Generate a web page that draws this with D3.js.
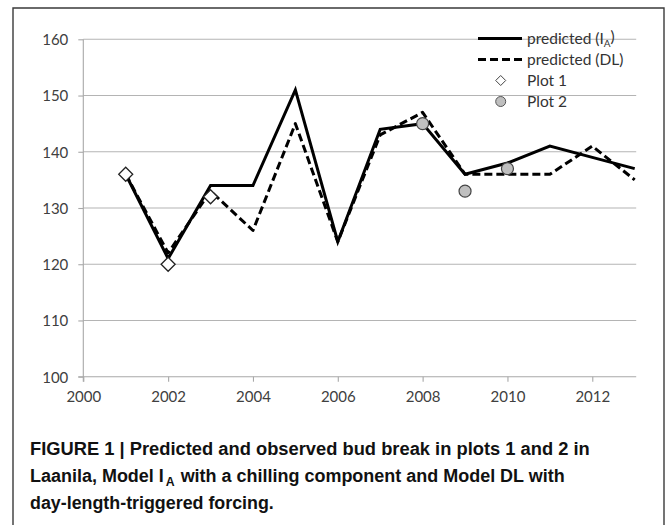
<!DOCTYPE html>
<html><head><meta charset="utf-8">
<script src="https://cdn.jsdelivr.net/npm/d3@7/dist/d3.min.js"></script>
<style>
html,body{margin:0;padding:0;background:#fff;}
svg{display:block;}
.tick text{font-family:Lato,"Open Sans",sans-serif;}
</style></head>
<body><svg id="c" width="667" height="525"></svg>
<script>
const years = [2001,2002,2003,2004,2005,2006,2007,2008,2009,2010,2011,2012,2013];
const predictedIA = [136,121,134,134,151,124,144,145,136,138,141,139,137];
const predictedDL = [136,122,133,126,145,124,143,147,136,136,136,141,135];
const plot1Years = [2001,2002,2003];
const plot1Values = [136,120,132];
const plot2Years = [2008,2009,2010];
const plot2Values = [145,133,137];
const xTicks = [2000,2002,2004,2006,2008,2010,2012];
const yTicks = [100,110,120,130,140,150,160];
const legendLabels = ["predicted (I", "predicted (DL)", "Plot 1", "Plot 2"];
const captionLines = [
  "FIGURE 1 | Predicted and observed bud break in plots 1 and 2 in",
  "Laanila, Model I_A with a chilling component and Model DL with",
  "day-length-triggered forcing."
];

const svg = d3.select("#c");
const X0 = 83.3, X1 = 634.7, Y0 = 376.7, Y1 = 39.3;
const x = d3.scaleLinear().domain([2000,2013]).range([X0,X1]);
const y = d3.scaleLinear().domain([100,160]).range([Y0,Y1]);
const fontF = "Lato, 'Open Sans', sans-serif";
const axisCol = "#a8a8a8";

// frame
svg.append("path").attr("d","M13,530 L13,8 L664,8 L664,530")
  .attr("fill","none").attr("stroke","#3a3a3a").attr("stroke-width",1.4);

// gridlines
svg.append("g").selectAll("line").data(yTicks.filter(v=>v>100)).join("line")
  .attr("x1",X0).attr("x2",X1+1.5).attr("y1",d=>y(d)).attr("y2",d=>y(d))
  .attr("stroke","#b4b4b4").attr("stroke-width",1.1);

// y axis
const ya = svg.append("g").attr("transform",`translate(${X0},0)`)
  .call(d3.axisLeft(y).tickValues(yTicks).tickSizeInner(5).tickSizeOuter(0).tickPadding(10).tickFormat(d3.format("d")));
ya.select(".domain").attr("stroke",axisCol).attr("stroke-width",1.1).attr("d",`M0,${Y1}V${Y0+5}`);
ya.selectAll(".tick line").attr("stroke",axisCol).attr("stroke-width",1.1);
ya.selectAll(".tick text").attr("font-size",15).attr("fill","#404040").attr("dy","0.36em");

// x axis
const xa = svg.append("g").attr("transform",`translate(0,${Y0})`)
  .call(d3.axisBottom(x).tickValues(xTicks).tickSizeInner(5).tickSizeOuter(0).tickPadding(10).tickFormat(d3.format("d")));
xa.select(".domain").attr("stroke",axisCol).attr("stroke-width",1.1).attr("d",`M${X0-5},0H${X1+1.5}`);
xa.selectAll(".tick line").attr("stroke",axisCol).attr("stroke-width",1.1);
xa.selectAll(".tick text").attr("font-size",15).attr("fill","#404040");

// lines
const line = d3.line().x(d=>x(d[0])).y(d=>y(d[1]));
svg.append("path").datum(years.map((yr,i)=>[yr,predictedDL[i]])).attr("d",line)
  .attr("fill","none").attr("stroke","#000").attr("stroke-width",3).attr("stroke-dasharray","8,4").attr("stroke-linejoin","round");
svg.append("path").datum(years.map((yr,i)=>[yr,predictedIA[i]])).attr("d",line)
  .attr("fill","none").attr("stroke","#000").attr("stroke-width",3).attr("stroke-linejoin","miter");

// markers
const diamond = s => `M0,${-s}L${s},0L0,${s}L${-s},0Z`;
svg.append("g").selectAll("path").data(plot1Years.map((yr,i)=>[yr,plot1Values[i]])).join("path")
  .attr("transform",d=>`translate(${x(d[0])},${y(d[1])})`).attr("d",diamond(7))
  .attr("fill","#fff").attr("stroke","#222").attr("stroke-width",1.3);
svg.append("g").selectAll("circle").data(plot2Years.map((yr,i)=>[yr,plot2Values[i]])).join("circle")
  .attr("cx",d=>x(d[0])).attr("cy",d=>y(d[1])).attr("r",6)
  .attr("fill","#bfbfbf").attr("stroke","#444").attr("stroke-width",1.2);

// legend
const lg = svg.append("g");
const ly = [38.5, 59.5, 80.5, 101.5];
const lx0 = 478, lx1 = 522, lmx = 500.7, ltx = 527;
lg.append("line").attr("x1",lx0).attr("x2",lx1).attr("y1",ly[0]).attr("y2",ly[0]).attr("stroke","#000").attr("stroke-width",3);
lg.append("line").attr("x1",lx0).attr("x2",lx1).attr("y1",ly[1]).attr("y2",ly[1]).attr("stroke","#000").attr("stroke-width",3).attr("stroke-dasharray","8,4");
lg.append("path").attr("transform",`translate(${lmx},${ly[2]})`).attr("d",diamond(5)).attr("fill","#fff").attr("stroke","#444").attr("stroke-width",1);
lg.append("circle").attr("cx",lmx).attr("cy",ly[3]).attr("r",5).attr("fill","#bfbfbf").attr("stroke","#555").attr("stroke-width",1);
legendLabels.forEach((t,i)=>{
  const tx = lg.append("text").attr("x",ltx).attr("y",ly[i]).attr("dy","0.35em")
    .attr("font-family",fontF).attr("font-size",15.5).attr("fill","#333").text(t);
  if(i===0){
    tx.append("tspan").attr("font-size",10).attr("dy","0.3em").text("A");
    tx.append("tspan").attr("dy","-0.3em").attr("font-size",15.5).text(")");
  }
});

// caption (horizontally condensed via group scale)
const capF = "'Liberation Sans',Arial,sans-serif";
const capY = [455, 482, 509];
const capW = [560, 535, 244];
captionLines.forEach((t,i)=>{
  const parts = t.includes("I_A") ? (()=>{const p=t.split("I_A");return [[p[0]+"I",19,0,2],["A",13,4,1],[p[1],19,0,0]];})() : [[t,19,0,0]];
  const g = svg.append("g");
  const els = parts.map(p => g.append("text").attr("y",capY[i]+p[2]).attr("font-family",capF)
    .attr("font-weight","bold").attr("font-size",p[1]).attr("fill","#111")
    .style("white-space","pre").text(p[0]));
  const nat = els.map(e => e.node().getComputedTextLength());
  let cx = 0;
  els.forEach((e,k)=>{ e.attr("x",cx); cx += nat[k] + parts[k][3]; });
  const f = capW[i] / cx;
  g.attr("transform",`translate(30,0) scale(${f},1)`);
});
</script></body></html>
